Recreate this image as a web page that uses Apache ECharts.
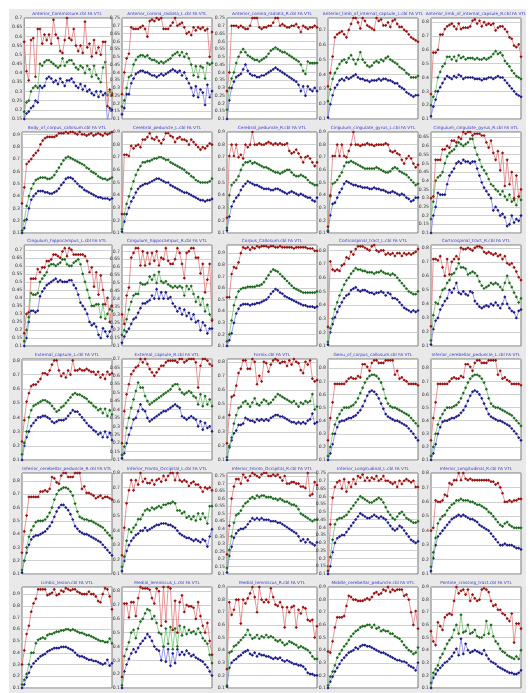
<!DOCTYPE html>
<html>
<head>
<meta charset="utf-8">
<script src="https://cdn.jsdelivr.net/npm/echarts/dist/echarts.min.js"></script>
<style>
  html, body { margin: 0; padding: 0; background: #fff; }
  #main { position: absolute; left: 9px; top: 9px; width: 517px; height: 684px; }
</style>
</head>
<body>
<div id="main"></div>
<script>
// FA values in hundredths (0.57 -> 57), three lines per tract: red, green, blue
var titles = ['Anterior_Commissure.cbl FA VTL', 'Anterior_corona_radiata_L.cbl FA VTL', 'Anterior_corona_radiata_R.cbl FA VTL',
  'Anterior_limb_of_internal_capsule_L.cbl FA VTL', 'Anterior_limb_of_internal_capsule_R.cbl FA VTL',
  'Body_of_corpus_callosum.cbl FA VTL', 'Cerebral_peduncle_L.cbl FA VTL', 'Cerebral_peduncle_R.cbl FA VTL',
  'Cingulum_cingulate_gyrus_L.cbl FA VTL', 'Cingulum_cingulate_gyrus_R.cbl FA VTL',
  'Cingulum_hippocampus_L.cbl FA VTL', 'Cingulum_hippocampus_R.cbl FA VTL', 'Corpus_Callosum.cbl FA VTL',
  'Corticospinal_tract_L.cbl FA VTL', 'Corticospinal_tract_R.cbl FA VTL',
  'External_capsule_L.cbl FA VTL', 'External_capsule_R.cbl FA VTL', 'Fornix.cbl FA VTL',
  'Genu_of_corpus_callosum.cbl FA VTL', 'Inferior_cerebellar_peduncle_L.cbl FA VTL',
  'Inferior_cerebellar_peduncle_R.cbl FA VTL', 'Inferior_Fronto_Occipital_L.cbl FA VTL', 'Inferior_Fronto_Occipital_R.cbl FA VTL',
  'Inferior_Longitudinal_L.cbl FA VTL', 'Inferior_Longitudinal_R.cbl FA VTL',
  'Limbic_lesion.cbl FA VTL', 'Medial_lemniscus_L.cbl FA VTL', 'Medial_lemniscus_R.cbl FA VTL',
  'Middle_cerebellar_peduncle.cbl FA VTL', 'Pontine_crossing_tract.cbl FA VTL'];

// y axis ranges (min, max, step) per panel
var yMin  = [0.15,0.1,0.1,0.1,0.1, 0.1,0.1,0.1,0.1,0.1, 0.1,0.1,0.1,0.1,0.1, 0.1,0.1,0.1,0.1,0.1, 0.1,0.1,0.1,0.1,0.1, 0.1,0.1,0.1,0.1,0.1];
var yMax  = [0.70,0.75,0.75,0.78,0.83, 0.92,0.90,0.90,0.90,0.68, 0.73,0.74,0.97,0.84,0.82, 0.81,0.70,0.82,0.87,0.87, 0.86,0.80,0.77,0.75,0.80, 0.96,0.83,0.90,0.90,0.90];
var yStep = [0.05,0.05,0.05,0.1,0.1, 0.1,0.1,0.1,0.1,0.05, 0.05,0.05,0.1,0.1,0.1, 0.1,0.05,0.1,0.1,0.1, 0.1,0.1,0.05,0.05,0.1, 0.1,0.1,0.1,0.1,0.1];

var r01 = [57,41,36,58,59,38,64,64,56,61,58,61,56,69,61,59,52,51,58,70,59,58,64,55,52,55,51,68,54,56,49,58,51,54,50,57,57,22,31,28];
var g01 = [19,24,25,30,32,33,32,45,44,46,47,47,46,45,44,43,44,48,44,46,47,47,45,43,42,44,43,40,44,42,38,44,39,37,35,43,46,28,30,29];
var b01 = [15,18,19,21,22,25,24,33,32,33,37,38,37,35,36,34,37,35,33,36,36,37,35,33,32,34,31,33,30,31,29,28,30,27,30,28,29,14,21,20];
var r02 = [26,40,49,52,69,68,68,68,69,70,68,63,73,74,73,75,74,75,68,68,68,70,72,75,70,71,72,69,65,66,64,69,67,69,68,69,67,68,50,66];
var g02 = [18,22,30,37,38,45,48,50,51,51,50,51,49,48,48,47,46,47,46,47,48,49,51,52,53,51,53,50,52,49,45,38,44,37,44,43,36,46,45,46];
var b02 = [13,17,26,26,33,36,39,40,41,41,40,40,39,38,38,37,38,39,38,39,40,41,42,41,40,41,38,40,36,33,30,25,31,24,29,27,19,32,24,28];
var r03 = [28,40,70,70,70,69,70,69,68,68,70,75,75,75,69,68,69,69,70,70,72,75,75,70,71,70,69,69,70,70,71,69,66,70,69,68,69,69,70,69];
var g03 = [16,30,36,40,46,50,53,55,53,51,50,49,48,48,47,48,49,50,52,54,55,56,55,54,53,53,52,51,50,49,48,47,45,41,39,47,46,46,46,46];
var b03 = [10,22,30,34,37,38,39,42,45,41,39,38,38,37,37,38,38,39,40,41,42,43,42,41,40,39,38,37,36,35,34,32,28,31,25,31,29,28,30,28];
var r04 = [32,41,52,65,67,68,69,67,65,70,74,78,78,75,71,78,76,73,72,71,70,78,76,77,73,73,75,72,76,77,74,72,72,70,69,67,65,64,63,62];
var g04 = [22,30,37,41,44,47,49,50,48,51,53,50,47,50,55,50,48,46,45,46,48,49,48,50,49,51,52,50,49,48,47,45,44,43,41,40,38,38,38,39];
var b04 = [11,20,26,31,33,36,37,36,38,37,38,39,40,38,37,37,36,36,35,36,36,36,37,36,37,37,36,36,35,34,34,32,31,30,28,27,26,25,26,26];
var r05 = [28,58,58,60,71,71,75,77,78,79,77,75,79,75,76,76,76,77,81,82,79,81,77,80,78,79,78,79,74,76,77,77,75,73,69,68,63,62,64,55];
var g05 = [20,26,30,40,44,48,50,55,55,53,55,52,56,54,55,53,54,54,54,53,54,53,53,54,53,54,55,57,59,57,58,56,52,50,48,45,43,41,40,39];
var b05 = [12,19,24,30,33,36,39,41,40,39,41,40,42,41,39,40,40,40,40,39,39,39,38,39,39,40,40,39,40,41,40,40,38,36,34,32,30,28,27,26];
var r06 = [34,47,66,68,70,73,75,77,82,85,87,88,88,88,88,89,91,91,91,92,91,92,92,91,90,92,90,90,89,90,91,89,90,91,90,89,91,90,91,92];
var g06 = [12,20,32,40,46,50,53,54,55,55,55,54,54,55,57,60,63,66,69,71,72,71,70,69,68,67,66,65,63,62,60,59,58,56,55,54,54,53,54,55];
var b06 = [10,14,21,30,37,40,42,44,44,44,43,43,42,42,43,44,46,49,51,54,55,55,54,52,50,48,47,45,44,43,42,41,40,39,39,38,38,38,37,38];
var r07 = [25,72,72,71,79,77,79,80,78,84,84,86,89,85,84,86,83,81,84,89,89,87,86,82,85,86,84,84,83,80,84,82,80,78,76,78,77,79,81,80];
var g07 = [13,25,33,39,45,51,56,60,63,66,66,67,67,68,69,69,70,70,69,68,68,66,65,64,63,62,61,60,58,57,55,54,52,51,50,50,50,50,51,53];
var b07 = [11,19,25,30,35,38,42,45,47,48,49,49,50,51,52,53,53,52,51,50,50,48,47,46,45,44,43,42,42,41,40,39,38,37,36,36,35,36,36,37];
var r08 = [22,71,80,71,80,70,72,69,80,78,80,90,80,80,81,80,80,81,82,81,80,81,80,81,80,80,81,75,73,74,76,73,70,66,70,71,69,66,63,66];
var g08 = [14,40,48,50,52,55,60,64,66,66,67,65,66,65,64,63,62,62,61,60,59,58,58,57,58,59,60,60,58,56,55,55,56,55,54,52,50,49,48,48];
var b08 = [12,23,31,35,38,40,44,47,49,51,50,49,48,48,47,46,45,45,45,44,44,45,45,44,43,42,41,42,43,42,41,40,41,40,39,38,38,36,35,38];
var r09 = [15,40,71,71,80,71,80,71,70,75,80,90,80,80,79,80,80,81,80,80,79,80,80,80,80,81,80,75,74,75,73,72,68,65,69,71,69,65,62,64];
var g09 = [12,39,49,50,52,55,58,63,66,66,67,66,65,64,63,62,61,61,61,61,61,62,61,60,59,58,58,59,61,62,61,59,58,57,56,54,52,50,48,49];
var b09 = [11,24,33,34,38,42,45,49,51,50,49,48,48,47,47,46,46,46,45,45,46,45,45,44,44,43,42,42,43,42,41,40,41,40,38,37,35,36,38,38];
var r10 = [30,31,52,52,52,58,58,60,59,63,63,62,65,64,68,67,68,68,66,67,67,67,66,66,62,59,63,56,52,57,46,56,37,52,38,45,30,43,31,35];
var g10 = [18,28,40,42,43,45,50,54,56,57,58,60,62,61,60,61,62,64,64,59,55,52,48,46,44,41,38,37,35,34,32,34,31,29,32,28,29,26,31,29];
var b10 = [10,20,25,33,32,32,32,38,43,45,47,50,51,50,52,51,51,50,51,51,47,43,39,36,34,32,30,23,25,23,20,21,19,14,15,20,16,18,17,20];
var r11 = [18,30,31,52,52,52,58,56,59,59,63,63,64,67,67,66,65,69,71,66,71,70,67,67,67,67,67,66,63,56,59,47,56,42,54,45,36,40,25,35];
var g11 = [13,20,28,43,42,42,43,50,52,54,56,60,61,61,60,61,62,64,64,61,60,60,62,63,64,61,55,50,45,40,35,35,36,36,28,36,27,30,33,32];
var b11 = [10,15,25,32,32,31,32,41,44,46,48,49,50,51,52,50,51,50,50,50,51,51,48,46,42,37,35,33,30,25,23,24,22,17,15,21,19,16,19,22];
var r12 = [30,24,42,47,66,69,72,72,61,70,61,69,62,69,64,70,61,66,65,72,64,62,62,65,72,69,62,53,69,70,72,72,66,66,56,62,44,52,62,26];
var g12 = [17,20,27,33,38,42,43,43,50,49,49,50,54,52,55,50,57,51,50,51,49,48,47,48,47,48,47,42,48,46,48,43,38,41,36,40,32,36,30,27];
var b12 = [12,16,19,21,24,27,28,31,34,37,37,38,39,42,40,46,40,44,40,44,40,41,37,35,32,34,30,33,29,31,27,30,25,26,20,25,23,18,21,21];
var r13 = [52,52,72,78,77,82,90,95,94,95,93,95,94,96,95,96,96,96,95,96,96,95,95,96,95,95,95,95,95,94,95,95,95,95,95,94,94,94,92,92];
var g13 = [14,20,32,45,52,57,59,60,60,61,61,61,61,62,62,63,65,68,71,74,76,75,74,72,70,68,66,64,62,60,59,58,57,56,56,56,56,56,56,57];
var b13 = [10,15,21,30,38,42,45,46,46,46,45,46,46,47,47,48,49,50,52,55,57,59,58,56,55,53,52,51,50,49,48,47,46,45,45,44,44,44,43,44];
var r14 = [24,72,66,65,66,65,69,70,75,74,79,77,81,83,83,83,82,81,80,83,84,80,79,80,80,77,78,77,78,76,78,78,76,78,77,78,77,78,79,81];
var g14 = [13,23,30,37,42,47,51,55,58,60,63,65,67,66,66,65,65,64,64,64,63,64,64,65,64,63,63,62,63,62,60,58,56,54,52,50,49,48,48,50];
var b14 = [11,20,26,31,35,39,42,45,47,48,51,52,53,51,50,51,51,50,49,49,48,49,49,50,49,47,49,48,45,45,44,42,40,38,37,36,35,36,35,36];
var r15 = [24,72,72,71,74,66,60,72,61,70,72,74,72,80,79,79,80,79,78,80,81,81,80,77,76,77,76,75,76,74,75,72,74,69,68,69,66,63,59,57];
var g15 = [14,32,41,40,45,50,51,55,57,61,62,65,69,66,66,65,61,62,63,62,60,56,53,51,52,53,55,54,55,54,52,50,55,60,55,52,48,45,41,44];
var b15 = [11,22,28,30,36,39,42,44,50,48,51,55,48,47,49,47,46,49,48,42,40,38,37,38,39,38,40,39,41,39,37,40,45,40,37,35,34,30,35,36];
var r16 = [23,38,51,57,62,63,63,65,67,71,71,70,73,77,80,80,73,69,71,68,73,70,80,73,73,74,73,73,74,73,72,72,70,72,68,70,67,72,70,71];
var g16 = [14,22,30,40,45,48,49,50,51,52,52,51,50,48,46,44,45,47,48,50,52,54,56,57,56,56,55,54,53,51,50,48,47,45,46,43,46,41,45,42];
var b16 = [10,20,26,30,34,36,38,40,40,41,41,40,39,37,36,37,38,38,38,39,41,43,45,44,44,42,40,38,36,34,33,31,30,28,29,26,30,26,29,24];
var r17 = [20,39,49,55,61,63,65,66,70,68,70,67,64,62,60,62,64,66,66,68,69,69,69,69,68,70,70,68,69,70,70,70,68,53,66,70,70,69,67,66];
var g17 = [13,18,29,35,41,46,51,56,53,53,48,45,43,44,45,46,47,48,49,50,51,52,54,55,55,52,50,49,50,51,50,48,47,43,49,42,48,43,46,42];
var b17 = [11,14,20,25,29,34,35,39,43,40,39,35,33,34,35,36,37,38,39,39,40,41,42,43,42,41,36,35,34,35,36,35,34,30,33,28,32,29,30,27];
var r18 = [22,42,55,56,63,72,75,81,81,75,75,82,80,64,70,66,80,79,73,78,81,82,81,79,80,80,77,81,78,82,80,79,74,72,80,78,81,68,66,67];
var g18 = [12,20,26,36,42,47,48,51,52,50,48,51,54,50,49,51,53,52,50,51,53,55,57,56,55,54,53,52,51,52,50,48,51,50,52,51,52,57,46,48];
var b18 = [10,19,24,29,31,35,35,36,40,39,38,38,37,39,38,39,38,39,38,40,41,42,42,41,41,40,39,38,37,37,36,37,36,37,36,38,39,43,36,37];
var r19 = [25,42,54,68,68,68,68,68,70,72,73,72,72,74,73,83,83,81,78,84,86,86,84,84,84,86,86,86,86,75,78,72,73,71,70,68,68,68,68,67];
var g19 = [13,20,30,37,42,45,48,50,50,50,51,52,54,57,61,65,69,72,74,75,75,74,72,69,64,57,53,51,50,50,49,48,47,46,45,44,42,40,38,36];
var b19 = [10,15,22,30,35,39,40,40,41,42,42,43,44,46,48,51,55,59,62,63,62,60,57,53,49,45,43,42,41,40,40,39,38,37,36,34,32,30,27,25];
var r20 = [25,42,54,68,68,68,68,68,70,72,73,72,72,74,73,83,83,81,78,84,86,86,84,84,84,86,86,86,86,75,78,72,73,71,70,68,68,68,68,67];
var g20 = [13,20,30,37,42,45,48,50,50,50,51,52,54,57,61,65,69,72,74,75,75,74,72,69,64,57,53,51,50,50,49,48,47,46,45,44,42,40,38,36];
var b20 = [10,15,22,30,35,39,40,40,41,42,42,43,44,46,48,51,55,59,62,63,62,60,57,53,49,45,43,42,41,40,40,39,38,37,36,34,32,30,27,25];
var r21 = [26,42,54,68,68,68,68,68,72,72,73,72,74,83,82,79,78,84,86,86,83,83,83,86,86,86,74,76,71,71,70,69,67,68,69,67,68,68,67,66];
var g21 = [13,20,30,38,43,46,49,50,50,50,51,53,56,60,66,70,73,74,75,75,74,72,69,63,57,53,52,51,51,50,50,49,48,47,46,45,43,41,39,37];
var b21 = [11,20,26,32,36,38,39,39,40,41,42,44,46,49,53,57,60,62,62,60,58,55,51,46,44,42,41,40,40,39,38,37,36,35,34,32,30,28,26,24];
var r22 = [23,42,59,68,75,68,75,72,80,74,76,73,73,75,72,75,76,74,78,75,78,80,80,75,80,75,74,75,74,71,73,74,72,72,70,67,70,69,70,68];
var g22 = [15,22,33,41,39,42,44,48,48,51,54,55,54,56,55,56,57,56,58,58,59,59,60,59,54,54,52,53,49,50,48,50,47,52,48,52,49,45,57,57];
var b22 = [12,19,26,30,33,35,37,38,40,40,42,40,41,42,43,44,44,45,45,45,44,44,43,42,40,38,37,36,35,35,34,33,34,33,32,34,33,29,36,41];
var r23 = [23,42,60,68,73,73,70,76,74,72,75,77,76,75,74,76,77,77,75,75,76,75,76,74,72,75,70,70,71,71,70,70,68,68,67,77,62,63,71,69];
var g23 = [14,26,35,44,49,50,52,55,57,58,60,61,60,62,61,62,62,61,61,61,60,60,59,60,59,58,58,57,56,56,55,53,50,49,48,47,46,45,46,46];
var b23 = [11,22,28,34,37,39,40,40,41,43,45,47,46,47,46,47,46,46,46,45,45,45,44,44,43,42,41,40,39,38,37,35,32,33,31,33,31,30,29,31];
var r24 = [12,42,59,66,69,70,65,71,63,69,66,71,68,73,72,74,70,72,70,72,71,73,70,71,73,70,70,69,68,69,66,70,68,70,71,70,69,70,66,66];
var g24 = [15,21,32,42,45,46,46,47,48,50,52,54,56,58,60,59,58,57,56,56,57,58,59,58,56,53,50,48,46,45,47,49,50,48,46,45,44,43,43,44];
var b24 = [10,15,24,30,33,34,35,35,37,39,41,43,45,47,49,48,47,46,46,47,48,47,46,47,46,45,43,41,39,38,39,41,40,38,36,34,32,31,30,31];
var r25 = [40,42,61,60,60,61,65,64,73,72,75,75,80,75,80,76,75,76,75,75,75,75,75,75,75,75,74,74,72,73,70,66,60,60,61,60,61,61,62,62];
var g25 = [15,25,35,45,48,50,51,54,56,58,59,61,61,62,61,61,61,60,60,59,58,58,57,56,55,53,52,50,48,46,44,43,45,46,44,43,42,42,42,42];
var b25 = [12,21,30,36,38,40,42,44,46,48,49,50,51,50,51,50,49,48,48,47,46,44,43,42,41,40,38,36,34,32,30,30,31,30,30,30,29,28,28,27];
var r26 = [30,42,56,63,75,82,86,94,94,94,94,89,90,91,94,89,90,93,92,95,94,93,94,94,92,91,90,90,90,92,90,90,88,84,83,90,95,94,88,77];
var g26 = [13,17,22,30,40,40,48,51,52,53,52,55,56,56,57,58,58,59,59,60,60,59,60,59,58,57,57,56,55,55,54,53,52,51,50,50,49,49,52,48];
var b26 = [10,13,19,23,28,31,33,35,37,38,39,41,42,43,44,44,44,45,45,45,44,43,42,40,38,37,37,36,35,34,34,33,33,32,31,30,31,34,29,31];
var r27 = [18,71,71,61,72,72,62,75,83,82,82,82,81,75,71,82,80,55,83,58,83,82,52,73,50,72,77,65,70,69,69,68,60,72,62,55,50,57,44,34];
var g27 = [12,33,38,43,50,52,46,53,58,60,64,67,66,60,62,57,50,49,40,53,42,54,38,53,40,55,48,54,49,52,50,51,49,53,50,46,44,42,34,28];
var b27 = [10,22,27,31,35,38,36,39,42,44,46,49,47,44,40,38,37,30,40,29,38,26,35,28,38,34,36,34,37,35,33,34,32,31,30,29,27,25,22,19];
var r28 = [25,78,68,72,80,80,61,80,77,81,85,90,82,70,90,80,78,80,78,89,82,76,75,78,74,58,74,70,74,75,58,72,69,74,73,64,63,64,50,59];
var g28 = [12,38,39,43,44,46,48,50,52,56,52,49,50,52,49,51,50,52,50,51,50,48,47,48,46,44,45,47,46,45,44,42,43,42,41,40,38,35,33,33];
var b28 = [11,26,30,32,33,35,36,38,39,40,37,36,38,35,37,36,36,35,35,34,33,34,33,34,32,31,32,31,30,29,29,28,28,27,25,22,21,21,20,20];
var r29 = [39,38,47,58,66,66,66,67,75,83,82,80,80,79,79,79,80,81,80,82,85,86,84,85,88,87,90,86,88,87,88,88,88,83,84,80,70,60,71,57];
var g29 = [12,19,23,28,34,37,40,43,45,48,51,53,55,56,58,59,59,60,60,58,60,57,58,55,56,55,55,53,53,51,50,49,47,44,42,40,39,37,38,42];
var b29 = [10,15,19,23,26,29,32,34,36,38,39,40,42,41,43,44,44,43,43,42,41,40,39,38,38,37,36,35,34,33,32,32,31,31,30,28,27,26,24,30];
var r30 = [55,47,44,62,59,56,66,68,69,68,79,90,85,87,88,84,88,79,84,81,79,80,88,89,88,86,79,75,76,72,72,69,68,65,63,69,46,61,61,57];
var g30 = [14,22,25,28,34,37,41,45,48,50,56,60,53,68,54,55,60,53,54,56,51,50,50,52,63,53,60,51,47,45,41,39,38,36,35,34,33,35,33,40];
var b30 = [10,18,21,24,26,28,30,31,33,35,38,41,36,49,37,45,40,38,39,40,39,38,37,40,36,33,31,30,29,27,26,25,24,23,22,22,21,21,22,24];

var panels = [
  [r01,g01,b01],[r02,g02,b02],[r03,g03,b03],[r04,g04,b04],[r05,g05,b05],
  [r06,g06,b06],[r07,g07,b07],[r08,g08,b08],[r09,g09,b09],[r10,g10,b10],
  [r11,g11,b11],[r12,g12,b12],[r13,g13,b13],[r14,g14,b14],[r15,g15,b15],
  [r16,g16,b16],[r17,g17,b17],[r18,g18,b18],[r19,g19,b19],[r20,g20,b20],
  [r21,g21,b21],[r22,g22,b22],[r23,g23,b23],[r24,g24,b24],[r25,g25,b25],
  [r26,g26,b26],[r27,g27,b27],[r28,g28,b28],[r29,g29,b29],[r30,g30,b30]
];

// layout (relative to #main)
var colLeft = [13, 113, 218, 319, 422];
var rowTop = [9, 123, 236, 350, 464, 578];
var W = 90, H = 101;
var markColor = ['#9b1010', '#1e6a1e', '#1b1b8a'];
var lineColor = ['#e27a7a', '#74c274', '#7f7fe6'];

var chart = echarts.init(document.getElementById('main'));
var option = {
  backgroundColor: '#e9e9e9',
  animation: false,
  title: [], grid: [], xAxis: [], yAxis: [], series: []
};

panels.forEach(function (p, i) {
  var left = colLeft[i % 5], top = rowTop[Math.floor(i / 5)];
  var n = Math.max(p[0].length, p[1].length, p[2].length);
  var cats = [];
  for (var k = 0; k < n; k++) cats.push(k + 1);
  var onStep = Math.abs(Math.round(yMax[i] / yStep[i]) * yStep[i] - yMax[i]) < 1e-6;

  option.title.push({
    text: titles[i], left: left + W / 2, top: top - 6, textAlign: 'center', padding: 0,
    textStyle: { fontSize: 4.3, fontWeight: 'normal', color: '#3b3bd0', fontFamily: 'DejaVu Sans' }
  });
  option.grid.push({
    left: left, top: top, width: W, height: H, show: true,
    backgroundColor: '#fff', borderColor: '#7a7a7a', borderWidth: 1
  });
  option.xAxis.push({
    gridIndex: i, type: 'category', data: cats, boundaryGap: false,
    axisLine: { show: false }, axisTick: { show: false }, axisLabel: { show: false }, splitLine: { show: false }
  });
  option.yAxis.push({
    gridIndex: i, type: 'value', min: yMin[i], max: yMax[i], interval: yStep[i],
    axisLine: { show: false }, axisTick: { show: false },
    axisLabel: { fontSize: 4.6, color: '#333', margin: 2, showMaxLabel: onStep, fontFamily: 'DejaVu Sans' },
    splitLine: { lineStyle: { color: '#c4c4c4', width: 0.8 } }
  });
  p.forEach(function (vals, s) {
    option.series.push({
      type: 'line', xAxisIndex: i, yAxisIndex: i,
      data: vals.map(function (v) { return v / 100; }),
      symbol: 'diamond', symbolSize: 3.2, showSymbol: true, showAllSymbol: true,
      lineStyle: { color: lineColor[s], width: 0.8 },
      itemStyle: { color: markColor[s] },
      z: 5 - s
    });
  });
});

chart.setOption(option);
</script>
</body>
</html>
